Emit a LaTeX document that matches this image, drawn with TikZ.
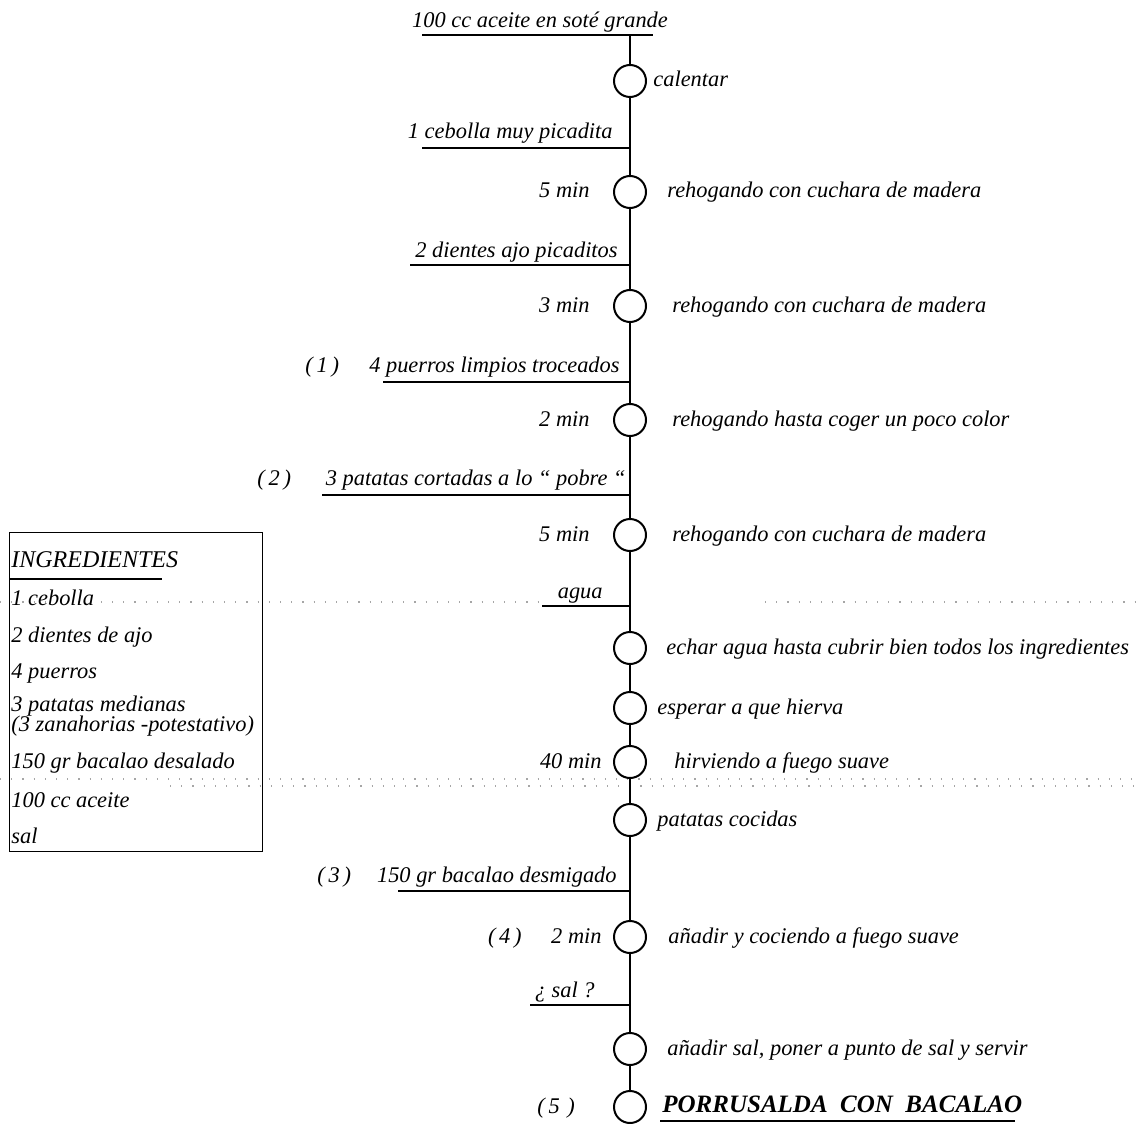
\documentclass[tikz,border=0pt]{standalone}
\usepackage{fontspec}
\setmainfont{Liberation Serif}
\begin{document}
\begin{tikzpicture}[x=0.5pt,y=-0.5pt,
  txt/.style={inner sep=0pt,font=\fontsize{11.2}{13}\selectfont\itshape},
  lft/.style={txt,anchor=base east},
  rgt/.style={txt,anchor=base west},
  stepcircle/.style={circle,draw,line width=1pt,minimum size=16pt,inner sep=0pt},
  flow/.style={line width=1pt},
  feed/.style={line width=1pt},
  faint/.style={gray!70,line width=0.6pt,dash pattern=on 0.6pt off 5pt}]
\useasboundingbox (0,0) rectangle (1139,1123);

% faint dotted rules across the sheet
\draw[faint] (0,602) -- (540,602);
\draw[faint] (765,602) -- (1139,602);
\draw[faint] (0,779) -- (1139,779);
\draw[faint] (170,786) -- (1139,786);

% ingredient list
\node[draw,line width=0.6pt,minimum width=126.5pt,minimum height=159.5pt,inner sep=0pt,anchor=north west] (box) at (9,532) {};
\node[rgt,font=\fontsize{12}{14}\selectfont\itshape] (ihead) at (11,567) {INGREDIENTES};
\coordinate (ul0) at (9,579);
\coordinate (ul1) at (162,579);
\draw[line width=0.9pt] (ul0) -- (ul1);
\node[rgt] (i1) at (11,605) {1 cebolla};
\node[rgt] (i2) at (11,642) {2 dientes de ajo};
\node[rgt] (i3) at (11,678) {4 puerros};
\node[rgt] (i4) at (11,711) {3 patatas medianas};
\node[rgt] (i5) at (11,731) {(3 zanahorias -potestativo)};
\node[rgt] (i6) at (11,768) {150 gr bacalao desalado};
\node[rgt] (i7) at (11,807) {100 cc aceite};
\node[rgt] (i8) at (11,843) {sal};

% junctions on the main line
\coordinate (jtop) at (630,35);
\coordinate (j1) at (630,148);
\coordinate (j2) at (630,265);
\coordinate (j3) at (630,382);
\coordinate (j4) at (630,495);
\coordinate (j5) at (630,606);
\coordinate (j6) at (630,891);
\coordinate (j7) at (630,1005);

% feed lines
\coordinate (a0) at (422,35);
\coordinate (b0) at (653,35);
\coordinate (a1) at (422,148);
\coordinate (a2) at (410,265);
\coordinate (a3) at (383,382);
\coordinate (a4) at (322,495);
\coordinate (a5) at (542,606);
\coordinate (a6) at (398,891);
\coordinate (a7) at (530,1005);
\draw[feed] (a0) -- (b0);
\draw[feed] (a1) -- (j1);
\draw[feed] (a2) -- (j2);
\draw[feed] (a3) -- (j3);
\draw[feed] (a4) -- (j4);
\draw[feed] (a5) -- (j5);
\draw[feed] (a6) -- (j6);
\draw[feed] (a7) -- (j7);

% feed labels
\node[txt,anchor=base] (f0) at (540,28) {100 cc aceite en soté grande};
\node[lft] (f1) at (613,139) {1 cebolla muy picadita};
\node[lft] (f2) at (618,257) {2 dientes ajo picaditos};
\node[lft] (f3) at (620,372) {4 puerros limpios troceados};
\node[rgt] (n1) at (305,372) {(\,1\,)};
\node[lft] (f4) at (626,485) {3 patatas cortadas a lo “ pobre “};
\node[rgt] (n2) at (257,485) {(\,2\,)};
\node[lft] (f5) at (603,598) {agua};
\node[lft] (f6) at (617,882) {150 gr bacalao desmigado};
\node[rgt] (n3) at (317,882) {(\,3\,)};
\node[lft] (f7) at (595,997) {¿ sal ?};

% operations
\node[stepcircle] (c1) at (630,81) {};
\node[stepcircle] (c2) at (630,192) {};
\node[stepcircle] (c3) at (630,306) {};
\node[stepcircle] (c4) at (630,420) {};
\node[stepcircle] (c5) at (630,535) {};
\node[stepcircle] (c6) at (630,648) {};
\node[stepcircle] (c7) at (630,708) {};
\node[stepcircle] (c8) at (630,762) {};
\node[stepcircle] (c9) at (630,820) {};
\node[stepcircle] (c10) at (630,937) {};
\node[stepcircle] (c11) at (630,1049) {};
\node[stepcircle] (c12) at (630,1107) {};

% main line
\draw[flow] (jtop) -- (c1);
\draw[flow] (c1) -- (j1) -- (c2);
\draw[flow] (c2) -- (j2) -- (c3);
\draw[flow] (c3) -- (j3) -- (c4);
\draw[flow] (c4) -- (j4) -- (c5);
\draw[flow] (c5) -- (j5) -- (c6);
\draw[flow] (c6) -- (c7);
\draw[flow] (c7) -- (c8);
\draw[flow] (c8) -- (c9);
\draw[flow] (c9) -- (j6) -- (c10);
\draw[flow] (c10) -- (j7) -- (c11);
\draw[flow] (c11) -- (c12);

% times
\node[lft] (m2) at (590,198) {5 min};
\node[lft] (m3) at (590,312) {3 min};
\node[lft] (m4) at (590,426) {2 min};
\node[lft] (m5) at (590,541) {5 min};
\node[lft] (m8) at (602,768) {40 min};
\node[lft] (m10) at (602,943) {2 min};
\node[lft] (n4) at (522,943) {(\,4\,)};
\node[rgt] (n5) at (537,1113) {(\,5\,\,)};

% operation texts
\node[rgt] (o1) at (653,87) {calentar};
\node[rgt] (o2) at (667,198) {rehogando con cuchara de madera};
\node[rgt] (o3) at (672,312) {rehogando con cuchara de madera};
\node[rgt] (o4) at (672,426) {rehogando hasta coger un poco color};
\node[rgt] (o5) at (672,541) {rehogando con cuchara de madera};
\node[rgt] (o6) at (666,654) {echar agua hasta cubrir bien todos los ingredientes};
\node[rgt] (o7) at (657,714) {esperar a que hierva};
\node[rgt] (o8) at (674,768) {hirviendo a fuego suave};
\node[rgt] (o9) at (657,826) {patatas cocidas};
\node[rgt] (o10) at (668,943) {añadir y cociendo a fuego suave};
\node[rgt] (o11) at (667,1055) {añadir sal, poner a punto de sal y servir};
\node[rgt,font=\fontsize{12.5}{15}\selectfont\bfseries\itshape] (o12) at (662,1112) {PORRUSALDA\ \ CON\ \ BACALAO};
\coordinate (tl0) at (660,1121);
\coordinate (tl1) at (1015,1121);
\draw[line width=1pt] (tl0) -- (tl1);
\end{tikzpicture}
\end{document}
